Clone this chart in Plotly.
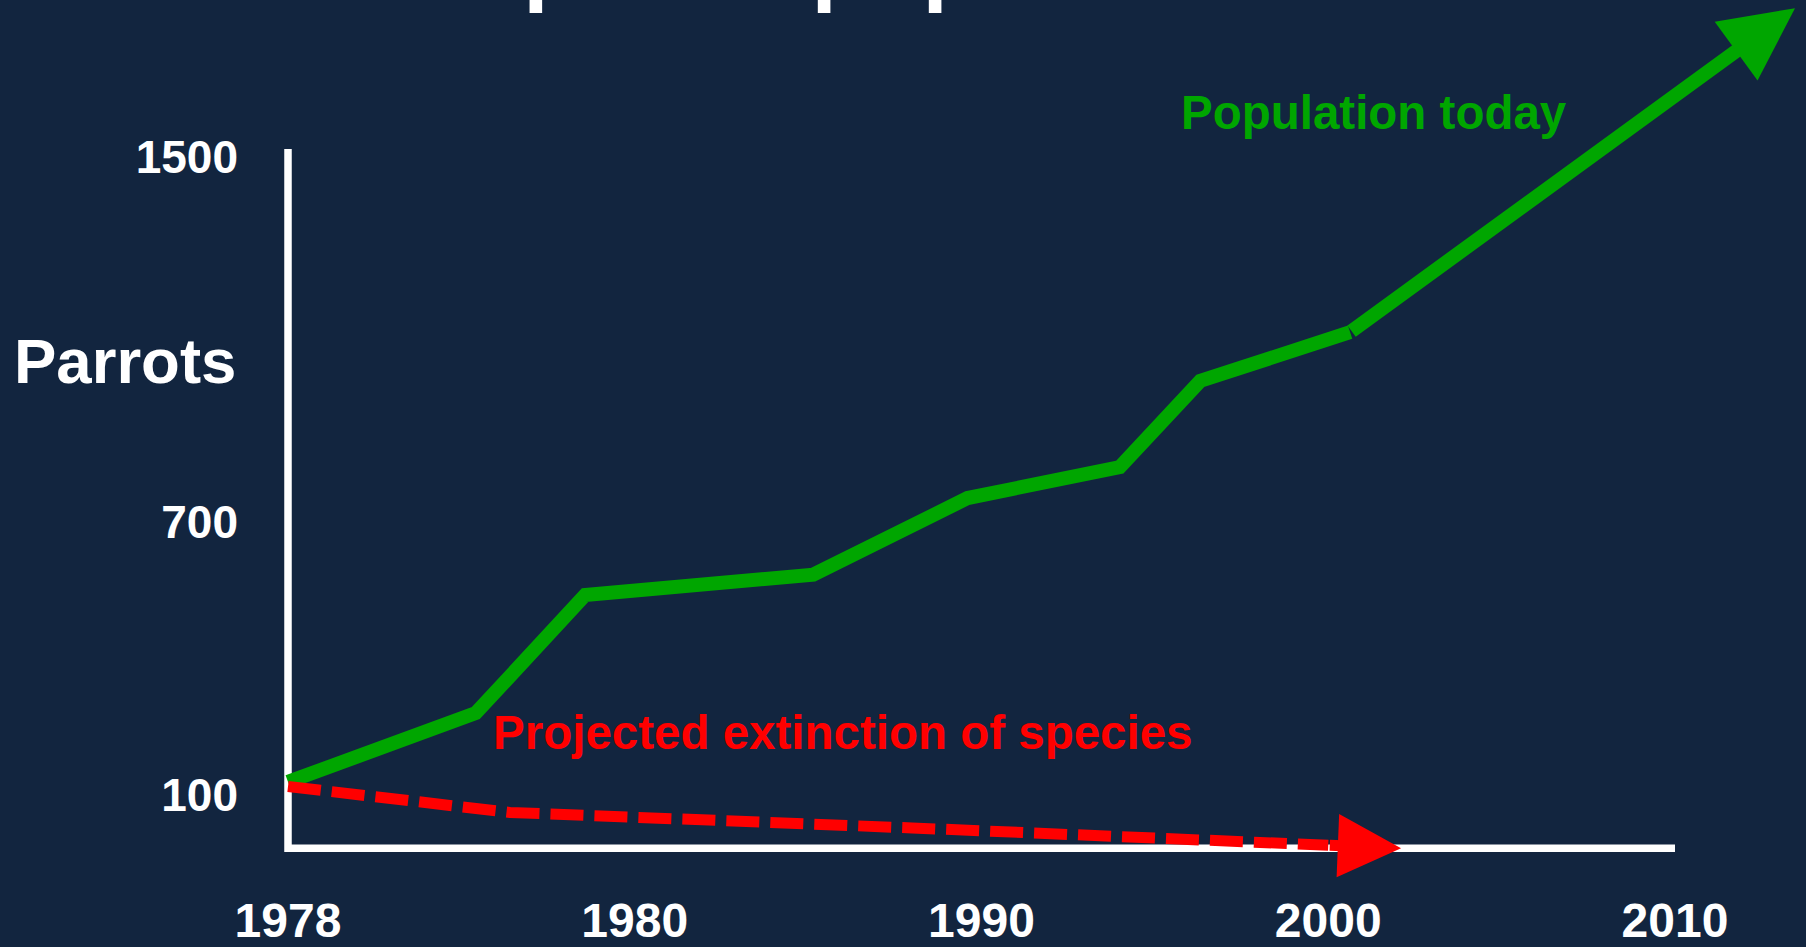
import plotly.graph_objects as go

# ---------------- data ----------------
x_tick_vals = [0, 1, 2, 3, 4]
x_tick_text = ["1978", "1980", "1990", "2000", "2010"]
y_tick_vals = [100, 700, 1500]
y_tick_text = ["100", "700", "1500"]

# population today (x in tick-slot units)
green_x = [0, 0.5415, 0.857, 1.515, 1.960, 2.399, 2.631, 3.063, 4.346]
green_y = [122, 273, 532, 577, 745, 813, 1002, 1109, 1820]

# projected extinction
red_x = [0, 0.64, 1.8, 3.0, 3.21]
red_y = [112, 55, 21, -17, -23.4]

# axis frame extents (value units)
frame_bottom = -23.4
frame_top = 1510.8

BG = "#12253f"
GREEN = "#00a600"
RED = "#ff0000"
W, H = 1806, 947

fig = go.Figure()

fig.add_trace(go.Scatter(
    x=green_x[:-1], y=green_y[:-1], mode="lines",
    line=dict(color=GREEN, width=14), hoverinfo="skip", showlegend=False))

fig.add_trace(go.Scatter(
    x=red_x[:-1], y=red_y[:-1], mode="lines",
    line=dict(color=RED, width=11, dash="33px,11px"), hoverinfo="skip", showlegend=False))

# axis frame (L shape)
x0, x1 = x_tick_vals[0], x_tick_vals[-1]
fig.add_shape(type="path", xref="x", yref="y",
              path=f"M {x0},{frame_top} L {x0},{frame_bottom} L {x1},{frame_bottom}",
              line=dict(color="white", width=7.5), layer="below")

annotations = [
    # arrow heads
    dict(x=green_x[-1], y=green_y[-1], ax=green_x[-2], ay=green_y[-2],
         xref="x", yref="y", axref="x", ayref="y", text="", showarrow=True,
         arrowhead=2, arrowwidth=14, arrowsize=1.04, arrowcolor=GREEN),
    dict(x=red_x[-1], y=red_y[-1], ax=red_x[-2], ay=red_y[-2],
         xref="x", yref="y", axref="x", ayref="y", text="", showarrow=True,
         arrowhead=2, arrowwidth=11, arrowsize=1.15, arrowcolor=RED),
    # labels
    dict(x=1179 / W, y=1 - 113 / H, xref="paper", yref="paper", xanchor="left", yanchor="middle",
         text="<b>Population today</b>", showarrow=False,
         font=dict(family="Liberation Sans, Arial", size=47.5, color=GREEN)),
    dict(x=491 / W, y=1 - 737 / H, xref="paper", yref="paper", xanchor="left", yanchor="middle",
         text="<b>Projected extinction of species</b>", showarrow=False,
         font=dict(family="Liberation Sans, Arial", size=47.5, color=RED)),
    dict(x=12 / W, y=1 - 363.5 / H, xref="paper", yref="paper", xanchor="left", yanchor="middle",
         text="<b>Parrots</b>", showarrow=False,
         font=dict(family="Liberation Sans, Arial", size=63.5, color="white")),
    # title (mostly cut off at the top of the slide)
    dict(x=142 / W, y=0.9845, xref="paper", yref="paper", xanchor="left", yanchor="bottom",
         text="<b>St Lucia parrot population</b>", showarrow=False, borderpad=1,
         font=dict(family="Liberation Sans, Arial", size=91, color="white")),
]

# axis ranges so that slot 0 -> px 288, slot 4 -> px 1675 ; 100 -> px 797, 1500 -> px 155
px_per_slot = (1675 - 288) / 4
x_range = [-288 / px_per_slot, (W - 288) / px_per_slot]
px_per_val = (797 - 155) / 1400
y_range = [100 - (H - 797) / px_per_val, 100 + 797 / px_per_val]
x_axis_px = 797 + (100 - frame_bottom) * px_per_val

fig.update_layout(
    width=W, height=H,
    margin=dict(l=0, r=0, t=0, b=0),
    paper_bgcolor=BG, plot_bgcolor=BG,
    showlegend=False,
    annotations=annotations,
    xaxis=dict(range=x_range, domain=[0, 1], anchor="free", position=(H - x_axis_px) / H,
               showgrid=False, zeroline=False, showline=False,
               tickmode="array", tickvals=x_tick_vals, ticktext=x_tick_text,
               ticks="", ticklabelstandoff=40,
               tickfont=dict(family="Liberation Sans, Arial", size=48, color="white", weight="bold"),
               fixedrange=True),
    yaxis=dict(range=y_range, domain=[0, 1], anchor="free", position=290 / W,
               showgrid=False, zeroline=False, showline=False,
               tickmode="array", tickvals=y_tick_vals, ticktext=y_tick_text,
               ticks="", ticklabelstandoff=52, ticklabelshift=3,
               tickfont=dict(family="Liberation Sans, Arial", size=46, color="white", weight="bold"),
               fixedrange=True),
)

fig.write_html("out.html", config={"displayModeBar": False},
               post_script="document.body.style.margin='0';document.body.style.overflow='hidden';")
